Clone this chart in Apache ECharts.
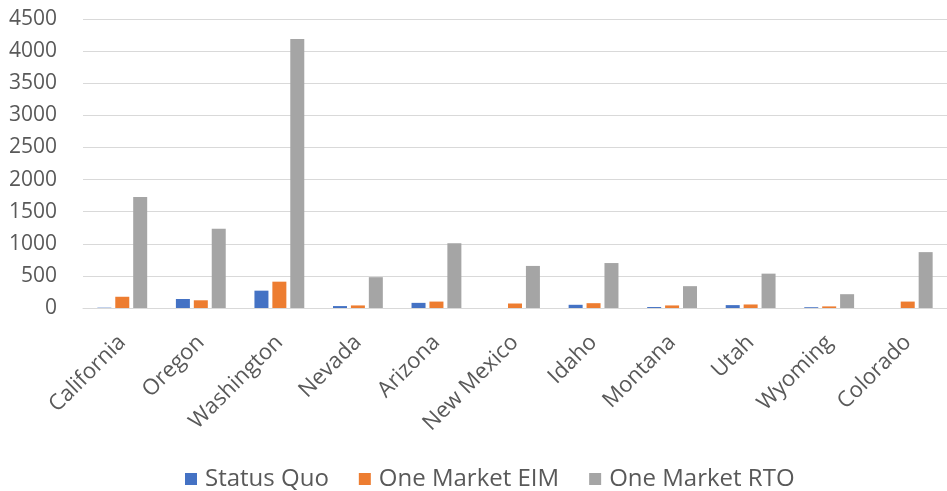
<!DOCTYPE html>
<html>
<head>
<meta charset="utf-8">
<script src="https://cdn.jsdelivr.net/npm/echarts@6/dist/echarts.min.js"></script>
<style>
  html, body { margin: 0; padding: 0; background: #ffffff; }
  #chart { width: 947px; height: 491px; }
</style>
</head>
<body>
<div id="chart"></div>
<script>
// Western states compared under three market scenarios
const states = ['California', 'Oregon', 'Washington', 'Nevada', 'Arizona', 'New Mexico',
                'Idaho', 'Montana', 'Utah', 'Wyoming', 'Colorado'];
const statusQuo    = [5, 140, 270, 30, 80, 0, 50, 15, 45, 12, 0];
const oneMarketEIM = [175, 120, 410, 40, 100, 70, 75, 40, 55, 25, 100];
const oneMarketRTO = [1730, 1235, 4190, 480, 1010, 655, 700, 340, 535, 215, 870];
const yTicks = { min: 0, max: 4500, step: 500 };

const textColor = '#595959';
const fontFamily = '"Open Sans", "DejaVu Sans", sans-serif';

const chart = echarts.init(document.getElementById('chart'), null, { renderer: 'canvas' });

function barSeries(name, data, color) {
  return {
    name: name,
    type: 'bar',
    data: data,
    barWidth: 14,
    barGap: '28%',
    itemStyle: { color: color },
    emphasis: { disabled: true }
  };
}

chart.setOption({
  animation: false,
  backgroundColor: '#ffffff',
  textStyle: { fontFamily: fontFamily },
  grid: { left: 83, right: -8, top: 19, bottom: 183, containLabel: false },
  legend: {
    left: 180,
    top: 462,
    itemWidth: 12,
    itemHeight: 12,
    itemGap: 30,
    icon: 'rect',
    textStyle: { color: textColor, fontSize: 24, fontFamily: fontFamily, padding: [0, 0, 0, 3] },
    data: ['Status Quo', 'One Market EIM', 'One Market RTO']
  },
  xAxis: {
    type: 'category',
    data: states,
    axisLine: { lineStyle: { color: '#d9d9d9', width: 1 } },
    axisTick: { show: false },
    axisLabel: {
      rotate: 45,
      margin: 31,
      color: textColor,
      fontSize: 22,
      fontFamily: fontFamily,
      interval: 0
    }
  },
  yAxis: {
    type: 'value',
    min: yTicks.min,
    max: yTicks.max,
    interval: yTicks.step,
    axisLine: { show: false },
    axisTick: { show: false },
    splitLine: { lineStyle: { color: '#d9d9d9', width: 1 } },
    axisLabel: {
      margin: 26,
      color: textColor,
      fontSize: 21,
      fontFamily: fontFamily,
      formatter: function (v) { return String(v); }
    }
  },
  series: [
    barSeries('Status Quo', statusQuo, '#4472c4'),
    barSeries('One Market EIM', oneMarketEIM, '#ed7d31'),
    barSeries('One Market RTO', oneMarketRTO, '#a5a5a5')
  ]
});
</script>
</body>
</html>
